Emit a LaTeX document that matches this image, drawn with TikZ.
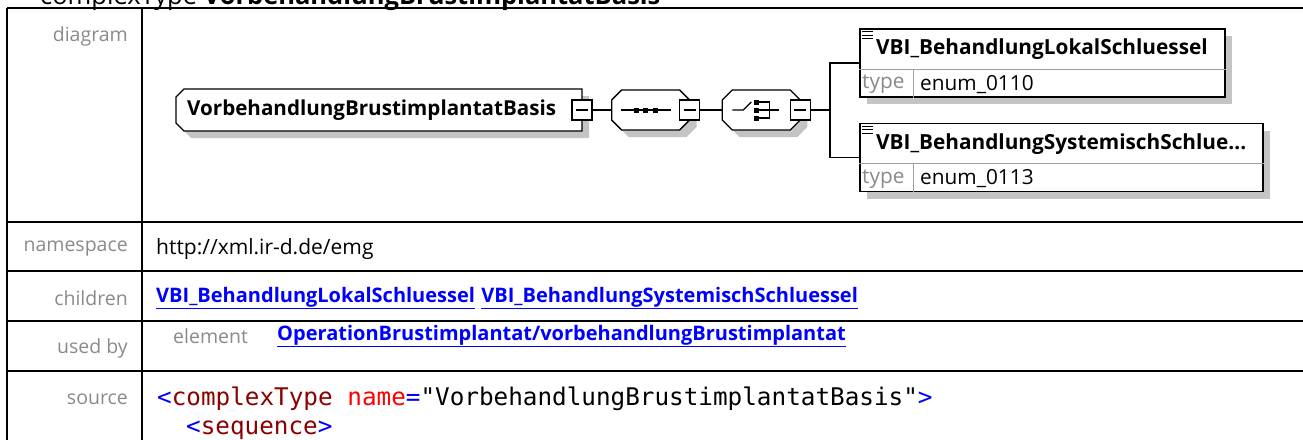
\documentclass[tikz,border=0pt]{standalone}
\usepackage{fontspec}
\setmainfont{Open Sans}
\newfontfamily\codefont{DejaVu Sans Mono}
\usepackage{tikz}
\usetikzlibrary{
  positioning, shadows, calc, backgrounds
}
\definecolor{xsLink}{HTML}{0000FF}
\definecolor{xsGray}{HTML}{8A8A8A}
\definecolor{xsShade}{HTML}{C4C4C4}
\definecolor{xsTag}{HTML}{8B0000}
\definecolor{xsAttr}{HTML}{FF0000}
\definecolor{xsMark}{HTML}{0000FF}
\definecolor{xsRule}{HTML}{A0A0A0}

\begin{document}
\begin{tikzpicture}[x=1pt, y=-1pt,
  rule/.style={line width=2pt},
  lbl/.style={anchor=east, inner sep=0pt, text=xsGray, font=\fontsize{19.5}{23}\selectfont},
  val/.style={anchor=west, inner sep=0pt, font=\fontsize{19.5}{23}\selectfont},
  lnk/.style={anchor=west, inner sep=0pt, text=xsLink, font=\fontsize{20}{24}\selectfont\bfseries},
  dropsh/.style={drop shadow={shadow xshift=7pt, shadow yshift=-7pt, fill=xsShade, opacity=1}},
  xline/.style={line width=1.3pt, fill=white, dropsh},
  xroot/.style={minimum width=406pt, minimum height=42pt, inner sep=0pt, outer sep=0pt},
  xcomp/.style={minimum width=78pt, minimum height=40pt, inner sep=0pt, outer sep=0pt},
  xminus/.style={draw, line width=1.3pt, fill=white, minimum size=20pt, inner sep=0pt,
                 path picture={\draw[line width=1.3pt] ([xshift=4pt]path picture bounding box.west)
                   -- ([xshift=-4pt]path picture bounding box.east);}},
  xelem/.style={draw, line width=1.5pt, fill=white, dropsh, anchor=west, minimum height=68pt, inner sep=0pt},
  ename/.style={anchor=west, inner sep=0pt, font=\fontsize{20.8}{24}\selectfont\bfseries},
  etype/.style={anchor=west, inner sep=0pt, font=\fontsize{20.8}{24}\selectfont},
  conn/.style={line width=1.3pt},
  code/.style={anchor=west, inner sep=0pt, font=\codefont\fontsize{24.3}{28}\selectfont}
]
  \useasboundingbox (0,0) rectangle (1303,439);
  \clip (0,0) rectangle (1303,439);

  % table
  \draw[rule] (7,8) -- (1310,8);
  \foreach \y in {222,271,321,371}
    \draw[rule] (7,\y) -- (1310,\y);
  \draw[rule] (7,8) -- (7,445);
  \draw[rule] (142,8) -- (142,445);

  \node[anchor=base west, inner sep=0pt, font=\fontsize{25.5}{30}\selectfont] (title) at (40,4.5)
    {complexType \textbf{VorbehandlungBrustimplantatBasis}};

  \node[lbl] (ldiag) at (128,36) {diagram};
  \node[lbl] (lns) at (128,249) {namespace};
  \node[val, font=\fontsize{21}{24}\selectfont] (ns) at (156,249) {http://xml.ir-d.de/emg};
  \node[lbl] (lch) at (128,298) {children};
  \node[lnk] (ch1) at (156,298) {\underline{VBI\_BehandlungLokalSchluessel}};
  \node[lnk, right=6pt of ch1] (ch2) {\underline{VBI\_BehandlungSystemischSchluessel}};
  \node[lbl] (lub) at (128,348) {used by};
  \node[val, text=xsGray] (ubel) at (173,336) {element};
  \node[lnk] (ub) at (277,336) {\underline{OperationBrustimplantat/vorbehandlungBrustimplantat}};
  \node[lbl] (lsrc) at (128,399) {source};
  \node[code] (src1) at (157,399) {\textcolor{xsMark}{<}\textcolor{xsTag}{complexType} \textcolor{xsAttr}{name}\textcolor{xsMark}{=}"VorbehandlungBrustimplantatBasis"\textcolor{xsMark}{>}};
  \node[code] (src2) at (186,430) {\textcolor{xsMark}{<}\textcolor{xsTag}{sequence}\textcolor{xsMark}{>}};

  % diagram
  \node[xroot] (root) at (379,110) {};
  \node[anchor=west, inner sep=0pt, font=\fontsize{20.6}{24}\selectfont\bfseries] (rootn)
    at ($(root.west)+(11,0)$) {VorbehandlungBrustimplantatBasis};
  \node[xminus] (m1) at (root.east) {};
  \node[xcomp, right=19pt of m1] (seq) {};
  \node[xminus] (m2) at (seq.east) {};
  \node[xcomp, right=22pt of m2] (cho) {};
  \node[xminus] (m3) at (cho.east) {};
  \coordinate[right=19pt of m3] (br);
  \node[xelem, minimum width=365pt] (c1) at (859,63) {};
  \node[xelem, minimum width=403pt] (c2) at (859,157.5) {};

  \begin{scope}[on background layer]
    \draw[xline] ($(root.north west)+(8,0)$) -- (root.north east) -- (root.south east)
      -- ($(root.south west)+(8,0)$) -- ($(root.south west)+(0,-8)$) -- ($(root.north west)+(0,8)$) -- cycle;
    \foreach \n in {seq,cho}
      \draw[xline] ($(\n.north west)+(10,0)$) -- ($(\n.north east)+(-10,0)$) -- ($(\n.north east)+(0,10)$)
        -- ($(\n.south east)+(0,-10)$) -- ($(\n.south east)+(-10,0)$) -- ($(\n.south west)+(10,0)$)
        -- ($(\n.south west)+(0,-10)$) -- ($(\n.north west)+(0,10)$) -- cycle;
  \end{scope}

  \draw[conn] (m1) -- (seq);
  \draw[conn] (m2) -- (cho);
  \draw[conn] (m3) -- (br);
  \draw[conn] (br) |- (c1);
  \draw[conn] (br) |- (c2);

  \draw[conn] ($(seq.center)+(-30,0)$) -- ($(seq.center)+(20,0)$);
  \foreach \dx in {-14.5,-5,4.5}
    \fill ($(seq.center)+(\dx,0)$) ++(-2.5,-2.5) rectangle ++(5,5);
  \draw[conn] ($(cho.center)+(-29,0)$) -- ++(11,0) -- ++(8,-8);
  \foreach \dy in {-8,0,8}
    \fill ($(cho.center)+(-5,\dy)$) ++(-2.5,-2.5) rectangle ++(5,5);
  \draw[conn] ($(cho.center)+(-5,-8)$) -| ($(cho.center)+(8,8)$) -- ($(cho.center)+(-5,8)$);
  \draw[conn] ($(cho.center)+(-5,0)$) -- ++(23,0);

  \foreach \c in {c1,c2} {
    \draw[xsRule, line width=1pt] ($(\c.north west)+(0,41)$) -- ($(\c.north east)+(0,41)$);
    \draw[xsRule, line width=1pt] ($(\c.south west)+(54,0)$) -- ($(\c.north west)+(54,41)$);
    \foreach \dy in {3.5,7,10.5}
      \draw[line width=1pt] ($(\c.north west)+(3,\dy)$) -- ++(11,0);
  }
  \node[ename] (c1n) at ($(c1.north west)+(17,21)$) {VBI\_BehandlungLokalSchluessel};
  \node[etype, text=xsGray] (c1t) at ($(c1.south west)+(3,-13.5)$) {type};
  \node[etype] (c1v) at ($(c1.south west)+(61,-13.5)$) {enum\_0110};
  \node[ename] (c2n) at ($(c2.north west)+(17,21)$) {VBI\_BehandlungSystemischSchlue...};
  \node[etype, text=xsGray] (c2t) at ($(c2.south west)+(3,-13.5)$) {type};
  \node[etype] (c2v) at ($(c2.south west)+(61,-13.5)$) {enum\_0113};
\end{tikzpicture}
\end{document}
